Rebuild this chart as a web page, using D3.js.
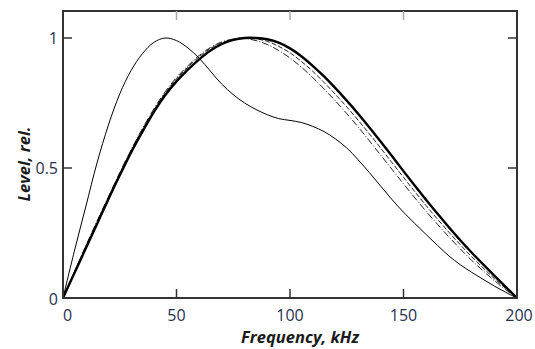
<!DOCTYPE html>
<html>
<head>
<meta charset="utf-8">
<script src="https://cdn.jsdelivr.net/npm/d3@7"></script>
<style>
body { margin: 0; background: #fff; }
.tick-label { font-family: "Open Sans", sans-serif; font-size: 16px; fill: #27314f; }
.axis-title { font-family: "Open Sans", sans-serif; font-size: 16.5px; font-weight: bold; font-style: italic; fill: #1a1a1a; }
</style>
</head>
<body>
<svg id="chart" width="535" height="349"></svg>
<script>
// frequency grid, kHz
const freq = [0,5,10,15,20,25,30,35,40,45,50,55,60,65,70,75,80,85,90,95,100,
  105,110,115,120,125,130,135,140,145,150,155,160,165,170,175,180,185,190,195,200];

// thin solid curve, peak near 45 kHz
const levelThin = [0,0.18,0.35,0.52,0.665,0.785,0.875,0.94,0.983,1.0,0.99,0.962,0.922,0.872,0.822,0.782,0.75,0.725,0.705,0.69,0.683,
  0.675,0.66,0.64,0.612,0.577,0.532,0.482,0.43,0.378,0.33,0.286,0.244,0.202,0.162,0.128,0.099,0.072,0.046,0.022,0];

// thick solid curve
const levelThick = [0,0.095,0.19,0.285,0.38,0.472,0.56,0.64,0.715,0.78,0.833,0.878,0.918,0.952,0.977,0.993,1.0,1.0,0.995,0.982,0.96,
  0.93,0.893,0.852,0.807,0.759,0.709,0.656,0.601,0.545,0.488,0.432,0.377,0.324,0.272,0.222,0.175,0.13,0.086,0.043,0];

// dashed curve
const levelDash = [0,0.1,0.196,0.292,0.386,0.478,0.566,0.648,0.722,0.788,0.843,0.888,0.928,0.96,0.982,0.995,1.0,0.997,0.987,0.968,0.943,
  0.91,0.872,0.829,0.783,0.735,0.684,0.631,0.576,0.52,0.464,0.409,0.355,0.303,0.253,0.205,0.159,0.116,0.075,0.037,0];

// dash-dot curve
const levelDashDot = [0,0.1,0.2,0.296,0.39,0.482,0.57,0.652,0.727,0.793,0.848,0.893,0.933,0.964,0.985,0.996,0.998,0.99,0.975,0.952,0.923,
  0.888,0.848,0.804,0.758,0.709,0.658,0.604,0.549,0.494,0.439,0.385,0.333,0.283,0.235,0.189,0.145,0.105,0.067,0.032,0];

const xTicks = [0, 50, 100, 150, 200];
const yTicks = [0, 0.5, 1];
const yTickLabels = ["0", "0.5", "1"];

const svg = d3.select("#chart");
const plotLeft = 63, plotRight = 517, plotTop = 11, plotBottom = 298;

const x = d3.scaleLinear().domain([0, 200]).range([plotLeft, plotRight]);
const y = d3.scaleLinear().domain([0, 1]).range([plotBottom, 38]);

const line = d3.line()
  .x((d, i) => x(freq[i]))
  .y(d => y(d))
  .curve(d3.curveCatmullRom);

// curves
svg.append("path").datum(levelDashDot)
  .attr("d", line).attr("fill", "none").attr("stroke", "#222")
  .attr("stroke-width", 1).attr("stroke-dasharray", "7,2,1,2");
svg.append("path").datum(levelDash)
  .attr("d", line).attr("fill", "none").attr("stroke", "#222")
  .attr("stroke-width", 1).attr("stroke-dasharray", "5,2");
svg.append("path").datum(levelThick)
  .attr("d", line).attr("fill", "none").attr("stroke", "#000")
  .attr("stroke-width", 2.4);
svg.append("path").datum(levelThin)
  .attr("d", line).attr("fill", "none").attr("stroke", "#000")
  .attr("stroke-width", 1);

// frame
svg.append("rect")
  .attr("x", plotLeft).attr("y", plotTop)
  .attr("width", plotRight - plotLeft).attr("height", plotBottom - plotTop)
  .attr("fill", "none").attr("stroke", "#333").attr("stroke-width", 2);

// inward ticks on all four sides
const tickLen = 9;
const ticks = svg.append("g").attr("stroke", "#333").attr("stroke-width", 1.5);
xTicks.slice(1, -1).forEach(t => {
  ticks.append("line").attr("x1", x(t)).attr("x2", x(t)).attr("y1", plotBottom).attr("y2", plotBottom - tickLen);
  ticks.append("line").attr("x1", x(t)).attr("x2", x(t)).attr("y1", plotTop).attr("y2", plotTop + tickLen).attr("stroke", "#aaa");
});
yTicks.slice(1).forEach(t => {
  ticks.append("line").attr("x1", plotLeft).attr("x2", plotLeft + tickLen).attr("y1", y(t)).attr("y2", y(t));
  ticks.append("line").attr("x1", plotRight).attr("x2", plotRight - tickLen).attr("y1", y(t)).attr("y2", y(t));
});

// tick labels
svg.append("g").selectAll("text").data(xTicks).join("text")
  .attr("class", "tick-label")
  .attr("x", d => x(d) + (d === 200 ? 2 : 0))
  .attr("y", 321)
  .attr("text-anchor", d => d === 0 ? "start" : "middle")
  .text(d => d);
svg.append("g").selectAll("text").data(yTicks).join("text")
  .attr("class", "tick-label")
  .attr("x", 58)
  .attr("y", d => y(d) + 6 + (d === 0 ? 1 : 0))
  .attr("text-anchor", "end")
  .text((d, i) => yTickLabels[i]);

// axis titles
svg.append("text").attr("class", "axis-title")
  .attr("x", 300).attr("y", 343)
  .attr("text-anchor", "middle")
  .text("Frequency, kHz");
svg.append("text").attr("class", "axis-title")
  .attr("transform", "translate(30,164) rotate(-90)")
  .attr("text-anchor", "middle")
  .text("Level, rel.");
</script>
</body>
</html>
